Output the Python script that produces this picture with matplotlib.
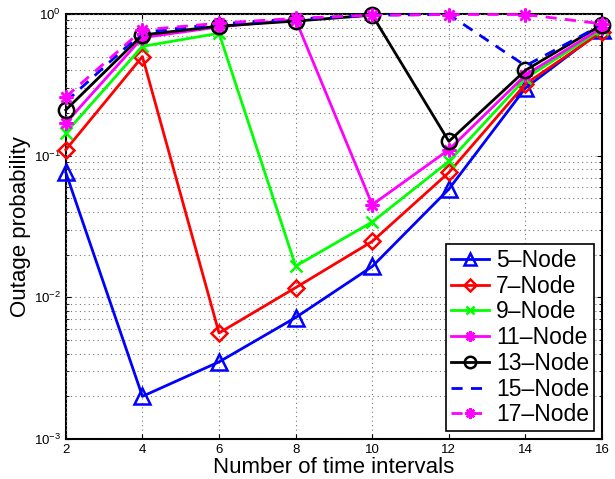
import matplotlib
matplotlib.use("Agg")
import matplotlib.pyplot as plt
import numpy as np

plt.rcParams['font.family'] = ['Liberation Sans', 'DejaVu Sans']
plt.rcParams['mathtext.fontset'] = 'custom'
plt.rcParams['mathtext.rm'] = 'Liberation Sans'

# data
intervals = [2, 4, 6, 8, 10, 12, 14, 16]
node5 = [0.076, 0.0020, 0.0035, 0.0072, 0.0165, 0.058, 0.30, 0.77]
node7 = [0.11, 0.50, 0.0056, 0.0117, 0.0248, 0.076, 0.32, 0.75]
node9 = [0.145, 0.59, 0.73, 0.0166, 0.034, 0.091, 0.35, 0.78]
node11 = [0.17, 0.68, 0.81, 0.91, 0.045, 0.11, 0.37, 0.80]
node13 = [0.21, 0.71, 0.82, 0.89, 0.98, 0.126, 0.40, 0.84]
node15 = [0.24, 0.74, 0.85, 0.92, 0.98, 0.99, 0.43, 0.84]
node17 = [0.26, 0.77, 0.86, 0.93, 0.98, 0.99, 0.99, 0.85]
labels = ['5\u2013Node', '7\u2013Node', '9\u2013Node', '11\u2013Node',
          '13\u2013Node', '15\u2013Node', '17\u2013Node']

fig = plt.figure(figsize=(6.15, 4.79), dpi=100)
ax = fig.add_axes([0.107, 0.0835, 0.872, 0.8875])

star = (8, 2, 0)  # matlab style asterisk
series = [node5, node7, node9, node11, node13, node15, node17]
styles = [
    dict(color='blue', marker='^', ls='-', ms=11),
    dict(color='red', marker='D', ls='-', ms=8),
    dict(color='#00ff00', marker='x', ls='-', ms=8),
    dict(color='magenta', marker=star, ls='-', ms=10),
    dict(color='black', marker='o', ls='-', ms=11),
    dict(color='blue', marker='None', ls='--', ms=10),
    dict(color='magenta', marker=star, ls='--', ms=10),
]
for y, st, lab in zip(series, styles, labels):
    ax.plot(intervals, y, color=st['color'], marker=st['marker'], ls=st['ls'],
            ms=st['ms'], mfc='none', mew=1.8, lw=2, label=lab, clip_on=False,
            dashes=(4, 3) if st['ls'] == '--' else (None, None))

ax.set_yscale('log')
ax.set_xlim(2, 16)
ax.set_ylim(1e-3, 1)
ax.set_xticks(intervals)
ax.grid(True, which='major', ls=(0, (1, 3)), color='#777777', lw=0.8)
ax.grid(True, which='minor', axis='y', ls=(0, (1, 3)), color='#777777', lw=0.8)
ax.tick_params(which='both', direction='in', top=True, right=True, labelsize=9.5)
for s in ax.spines.values():
    s.set_linewidth(1.5)
    s.set_zorder(1)

ax.set_xlabel('Number of time intervals', fontsize=16, labelpad=1)
ax.set_ylabel('Outage probability', fontsize=16, labelpad=2)

leg = ax.legend(loc='lower right', fontsize=16.5, fancybox=False, framealpha=1,
                edgecolor='black', handlelength=1.7, handletextpad=0.3,
                labelspacing=0.12, borderpad=0.2, borderaxespad=0.35,
                numpoints=1, markerscale=0.75)
leg.get_frame().set_linewidth(1.2)
leg.set_zorder(5)

fig.savefig('out.png', dpi=100)
